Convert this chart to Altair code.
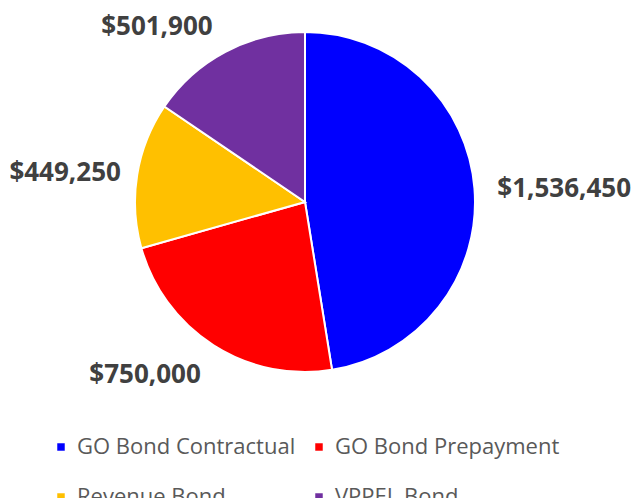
import altair as alt
import pandas as pd

categories = ["GO Bond Contractual", "GO Bond Prepayment", "Revenue Bond", "VPPEL Bond"]
values = [1536450, 750000, 449250, 501900]
labels = ["$1,536,450", "$750,000", "$449,250", "$501,900"]
colors = ["#0000FF", "#FF0000", "#FFC000", "#7030A0"]

df = pd.DataFrame({"cat": categories, "val": values, "label": labels, "order": [0, 1, 2, 3]})

color = alt.Color("cat:N", sort=categories,
                  scale=alt.Scale(domain=categories, range=colors),
                  legend=alt.Legend(title=None, orient="none", legendX=42, legendY=428,
                                    direction="horizontal",
                                    columns=2, symbolType="square", symbolSize=56,
                                    symbolStrokeWidth=0, labelLimit=400,
                                    labelFontSize=22, labelColor="#595959",
                                    labelFont="Open Sans", columnPadding=12,
                                    rowPadding=28, symbolOffset=0, labelOffset=5))

base = alt.Chart(df).encode(
    theta=alt.Theta("val:Q", stack=True),
    order=alt.Order("order:Q"),
)

pie = base.mark_arc(outerRadius=170, stroke="white", strokeWidth=2).encode(color=color)

# label tweaks: (dx, dy, radius)
offsets = {
    "$1,536,450": (-2, 8, 262),
    "$750,000": (-33, -26, 236),
    "$449,250": (-1, 10, 242),
    "$501,900": (-40, 29, 231),
}
layers = [pie]
for lab, (dx, dy, r) in offsets.items():
    layers.append(
        base.mark_text(radius=r, fontSize=26, fontWeight="bold", font="Open Sans",
                       color="#404040", dx=dx, dy=dy)
        .encode(text="label:N", opacity=alt.condition(alt.datum.label == lab, alt.value(1), alt.value(0)))
    )

chart = alt.layer(*layers).properties(
    width=594, height=388,
    padding={"left": 0, "top": 0, "right": 29, "bottom": 102},
    autosize=alt.AutoSizeParams(type="none"),
).configure_view(stroke=None)

chart.save("out.html", embed_options={"renderer": "svg", "actions": False})
